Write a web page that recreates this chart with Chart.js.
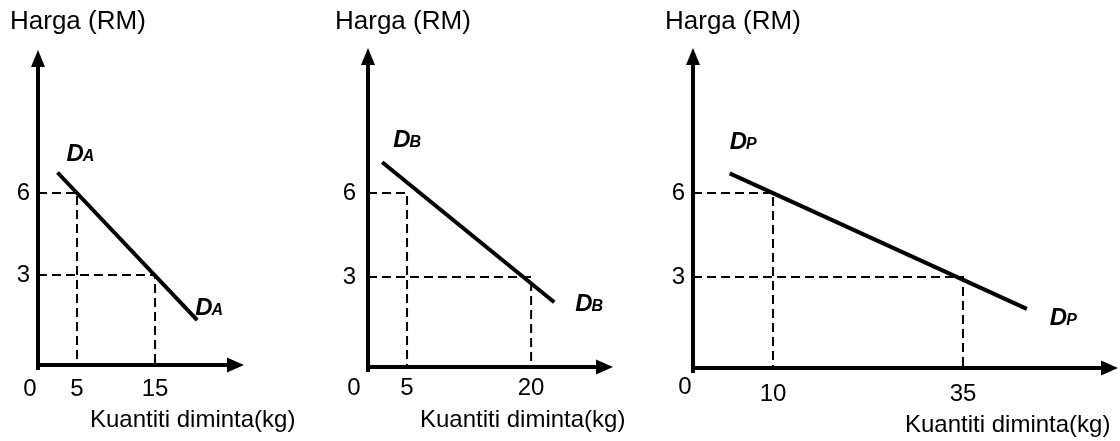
<!DOCTYPE html>
<html>
<head>
<meta charset="utf-8">
<title>Keluk permintaan A, B dan pasaran</title>
<script src="https://cdn.jsdelivr.net/npm/chart.js@4.4.1/dist/chart.umd.min.js"></script>
<style>
    body { margin: 0; background: #fff; }
    .wrap { position: relative; width: 1120px; height: 441px; }
    canvas { position: absolute; top: 0; }
</style>
</head>
<body>
<div class="wrap">
    <canvas id="chartA" width="300" height="441" style="left:0px"></canvas>
    <canvas id="chartB" width="350" height="441" style="left:300px"></canvas>
    <canvas id="chartC" width="470" height="441" style="left:650px"></canvas>
</div>
<script>
// data yang dibaca dari rajah
const yTitle = 'Harga (RM)';
const xTitle = 'Kuantiti diminta(kg)';
const priceLevels = [6, 3];          // harga (paksi y)
const qtyA = [5, 15];                // kuantiti pada harga 6 dan 3
const qtyB = [5, 20];
const qtyP = [10, 35];
// hujung garis permintaan [mula, akhir]
const demandAx = [2.5, 20.4];
const demandAy = [6.75, 1.35];
const demandBx = [2.0, 22.8];
const demandBy = [7.1, 2.1];
const demandPx = [4.3, 43.4];
const demandPy = [6.7, 1.86];
const curveNames = ['A', 'B', 'P'];

const FONT = "'Liberation Sans', Arial, sans-serif";

// paksi dengan anak panah + label teks
const decorPlugin = {
    id: 'decor',
    afterDraw(chart, args, o) {
        const ctx = chart.ctx;
        const {left, right, top, bottom} = chart.chartArea;
        const xs = chart.scales.x, ys = chart.scales.y;
        ctx.save();
        ctx.strokeStyle = '#000';
        ctx.fillStyle = '#000';
        ctx.lineWidth = 4;
        // paksi y
        ctx.beginPath();
        ctx.moveTo(left, bottom + 5);
        ctx.lineTo(left, top + 14);
        ctx.stroke();
        ctx.beginPath();
        ctx.moveTo(left, top);
        ctx.lineTo(left - 7, top + 17);
        ctx.lineTo(left + 7, top + 17);
        ctx.closePath();
        ctx.fill();
        // paksi x
        ctx.beginPath();
        ctx.moveTo(left - 2, bottom);
        ctx.lineTo(right - 14, bottom);
        ctx.stroke();
        ctx.beginPath();
        ctx.moveTo(right, bottom);
        ctx.lineTo(right - 17, bottom - 7.5);
        ctx.lineTo(right - 17, bottom + 7.5);
        ctx.closePath();
        ctx.fill();

        // tajuk
        ctx.textBaseline = 'middle';
        ctx.textAlign = 'left';
        ctx.font = '26px ' + FONT;
        ctx.fillText(yTitle, o.yTitleX, 22);
        ctx.font = '24px ' + FONT;
        ctx.fillText(xTitle, o.xTitleX, o.xTitleY);
        // asalan 0
        ctx.textAlign = 'center';
        ctx.fillText('0', left + o.zeroDx, o.zeroY);

        // label D
        const ds = chart.data.datasets[0].data;
        const p0 = {x: xs.getPixelForValue(ds[0].x), y: ys.getPixelForValue(ds[0].y)};
        const p1 = {x: xs.getPixelForValue(ds[1].x), y: ys.getPixelForValue(ds[1].y)};
        const drawD = (x, y) => {
            ctx.textAlign = 'left';
            ctx.textBaseline = 'alphabetic';
            ctx.font = 'italic bold 24px ' + FONT;
            ctx.fillText('D', x, y);
            const w = ctx.measureText('D').width;
            ctx.font = 'italic bold 16px ' + FONT;
            ctx.fillText(o.name, x + w - 1, y);
        };
        drawD(p0.x + o.topLbl[0], p0.y + o.topLbl[1]);
        drawD(p1.x + o.endLbl[0], p1.y + o.endLbl[1]);
        ctx.restore();
    }
};

function makeChart(id, qty, dxs, dys, cfg) {
    const guide6 = [{x: cfg.x[0], y: priceLevels[0]}, {x: qty[0], y: priceLevels[0]}, {x: qty[0], y: cfg.y[0]}];
    const guide3 = [{x: cfg.x[0], y: priceLevels[1]}, {x: qty[1], y: priceLevels[1]}, {x: qty[1], y: cfg.y[0]}];
    return new Chart(document.getElementById(id), {
        type: 'line',
        data: {
            datasets: [
                {
                    label: 'D' + cfg.name,
                    data: dxs.map((v, i) => ({x: v, y: dys[i]})),
                    borderColor: '#000',
                    borderWidth: 4,
                    pointRadius: 0
                },
                {
                    label: 'harga 6',
                    data: guide6,
                    borderColor: '#000',
                    borderWidth: 2,
                    borderDash: [9, 5],
                    pointRadius: 0
                },
                {
                    label: 'harga 3',
                    data: guide3,
                    borderColor: '#000',
                    borderWidth: 2,
                    borderDash: [9, 5],
                    pointRadius: 0
                }
            ]
        },
        options: {
            responsive: false,
            animation: false,
            events: [],
            layout: { padding: { top: cfg.top, right: cfg.right, left: 0, bottom: 0 } },
            plugins: {
                legend: { display: false },
                tooltip: { enabled: false },
                decor: cfg
            },
            scales: {
                x: {
                    type: 'linear',
                    min: cfg.x[0],
                    max: cfg.x[1],
                    grid: { display: false, drawTicks: false },
                    border: { display: false },
                    afterBuildTicks: s => { s.ticks = qty.map(v => ({value: v})); },
                    afterFit: s => { s.height = cfg.bottom; },
                    ticks: {
                        autoSkip: false,
                        maxRotation: 0,
                        padding: cfg.xPad,
                        color: '#000',
                        font: { family: FONT, size: 24 }
                    }
                },
                y: {
                    type: 'linear',
                    min: cfg.y[0],
                    max: cfg.y[1],
                    grid: { display: false, drawTicks: false },
                    border: { display: false },
                    afterBuildTicks: s => { s.ticks = priceLevels.map(v => ({value: v})); },
                    afterFit: s => { s.width = cfg.left; },
                    ticks: {
                        autoSkip: false,
                        padding: cfg.yPad,
                        color: '#000',
                        font: { family: FONT, size: 24 }
                    }
                }
            }
        },
        plugins: [decorPlugin]
    });
}

makeChart('chartA', qtyA, demandAx, demandAy, {
    name: curveNames[0], left: 38, top: 50, right: 56, bottom: 76,
    x: [0, 26.4], y: [-0.29, 11.23], xPad: 10, yPad: 8,
    yTitleX: 10, xTitleX: 90, xTitleY: 420, zeroDx: -8, zeroY: 389,
    topLbl: [9, -12], endLbl: [-2, -5]
});
makeChart('chartB', qtyB, demandBx, demandBy, {
    name: curveNames[1], left: 68, top: 48, right: 37, bottom: 74,
    x: [0.28, 29.9], y: [-0.21, 11.18], xPad: 7, yPad: 12,
    yTitleX: 35, xTitleX: 120, xTitleY: 420, zeroDx: -14, zeroY: 388,
    topLbl: [11, -15], endLbl: [21, 9]
});
makeChart('chartC', qtyP, demandPx, demandPy, {
    name: curveNames[2], left: 43, top: 48, right: 2, bottom: 73,
    x: [-0.53, 55.4], y: [-0.25, 11.18], xPad: 12, yPad: 8,
    yTitleX: 15, xTitleX: 255, xTitleY: 425, zeroDx: -8, zeroY: 387,
    topLbl: [0, -24], endLbl: [23, 16]
});
</script>
</body>
</html>
